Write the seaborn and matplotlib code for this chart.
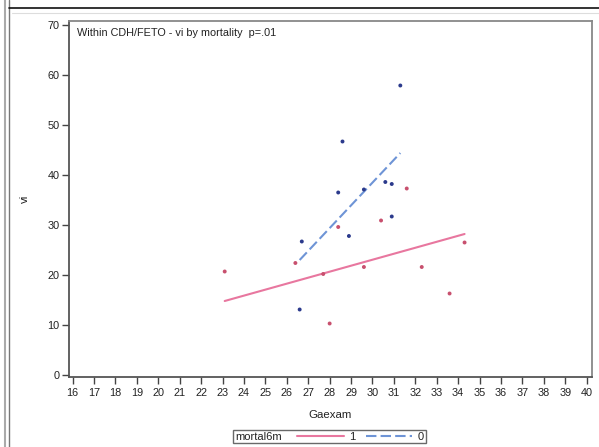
import matplotlib
matplotlib.use("Agg")
import matplotlib.pyplot as plt
from matplotlib.lines import Line2D
from matplotlib.offsetbox import HPacker
import seaborn as sns
import pandas as pd

# ---- data ----
gaexam_m1 = [23.1, 26.4, 27.7, 28.0, 28.4, 29.6, 30.4, 31.6, 32.3, 33.6, 34.3]
vi_m1 = [20.7, 22.4, 20.2, 10.3, 29.6, 21.6, 30.9, 37.3, 21.6, 16.3, 26.5]
gaexam_m0 = [26.6, 26.7, 28.4, 28.6, 28.9, 29.6, 30.6, 30.9, 30.9, 31.3]
vi_m0 = [13.1, 26.7, 36.5, 46.7, 27.8, 37.1, 38.6, 38.2, 31.7, 57.9]
fit_x_m1 = [23.1, 34.3]
fit_y_m1 = [14.8, 28.2]
fit_x_m0 = [26.6, 31.3]
fit_y_m0 = [23.0, 44.4]
x_ticks = list(range(16, 41))
y_ticks = list(range(0, 71, 10))
inset_text = "Within CDH/FETO - vi by mortality  p=.01"

pink_line = "#e8779f"
blue_line = "#6e94d6"
pink_pt = "#c8506e"
blue_pt = "#2b3a8c"
txt = "#222222"

sns.set_theme(style="white")
plt.rcParams["font.family"] = ["Liberation Sans", "DejaVu Sans"]

pts = pd.DataFrame({
    "Gaexam": gaexam_m1 + gaexam_m0,
    "vi": vi_m1 + vi_m0,
    "mortal6m": ["1"] * len(gaexam_m1) + ["0"] * len(gaexam_m0),
})
fits = pd.DataFrame({
    "Gaexam": fit_x_m1 + fit_x_m0,
    "vi": fit_y_m1 + fit_y_m0,
    "mortal6m": ["1"] * len(fit_x_m1) + ["0"] * len(fit_x_m0),
})

fig = plt.figure(figsize=(5.99, 4.47), dpi=100)
ax = fig.add_axes([69 / 599, 1 - 377 / 447, 523 / 599, 356 / 447])

sns.lineplot(data=fits, x="Gaexam", y="vi", hue="mortal6m", style="mortal6m",
             palette={"1": pink_line, "0": blue_line},
             dashes={"1": "", "0": (5, 2)}, linewidth=1.5, legend=False, ax=ax)
sns.scatterplot(data=pts, x="Gaexam", y="vi", hue="mortal6m",
                palette={"1": pink_pt, "0": blue_pt}, s=8, linewidth=0,
                legend=False, ax=ax, zorder=3)

ax.set_xlim(15.83, 40.25)
ax.set_ylim(-0.4, 70.8)
ax.set_xticks(x_ticks)
ax.set_yticks(y_ticks)
ax.tick_params(axis="both", direction="out", length=5, width=1, color="#444444",
               labelsize=7.8, labelcolor=txt, bottom=True, left=True)
ax.tick_params(axis="x", pad=3)
ax.tick_params(axis="y", pad=2)
for side, sp in ax.spines.items():
    sp.set_visible(True)
    sp.set_linewidth(1.3)
    sp.set_color("#555555" if side in ("left", "bottom") else "#888888")

ax.set_xlabel("Gaexam", fontsize=8.2, color=txt)
ax.set_ylabel("vi", fontsize=8.2, color=txt, va="center")
ax.xaxis.set_label_coords(0.5, -0.092)
ax.yaxis.set_label_coords(-0.084, 0.5)

ax.text(0.0145, 0.966, inset_text, transform=ax.transAxes, fontsize=7.8,
        color=txt, ha="left", va="center")

handles = [Line2D([], [], color=pink_line, lw=1.5),
           Line2D([], [], color=blue_line, lw=1.5, ls=(0, (5, 2)))]
leg = fig.legend(handles, ["1", "0"], title="mortal6m", ncol=2, loc="center",
                 bbox_to_anchor=(329.5 / 599, 1 - 436.5 / 447), frameon=True,
                 fancybox=False, edgecolor="#444444", fontsize=8,
                 title_fontsize=8, handlelength=4.2, handletextpad=0.5,
                 columnspacing=0.9, borderpad=0.15, labelspacing=1.4)
leg.get_frame().set_linewidth(1.0)
leg.get_title().set_color(txt)
for t in leg.get_texts():
    t.set_color(txt)
leg._legend_box.__class__ = HPacker

# outer frame lines of the reference screenshot
fig.add_artist(Line2D([4.5 / 599, 4.5 / 599], [0, 1], color="#aaaaaa", lw=1.5))
fig.add_artist(Line2D([9 / 599, 9 / 599], [0, 1], color="#777777", lw=1.0))
fig.add_artist(Line2D([9 / 599, 1], [1 - 8 / 447, 1 - 8 / 447], color="#111111", lw=1.2))
fig.add_artist(Line2D([12 / 599, 1], [1 - 13 / 447, 1 - 13 / 447], color="#dddddd", lw=0.8))

fig.savefig("out.png", dpi=100)
